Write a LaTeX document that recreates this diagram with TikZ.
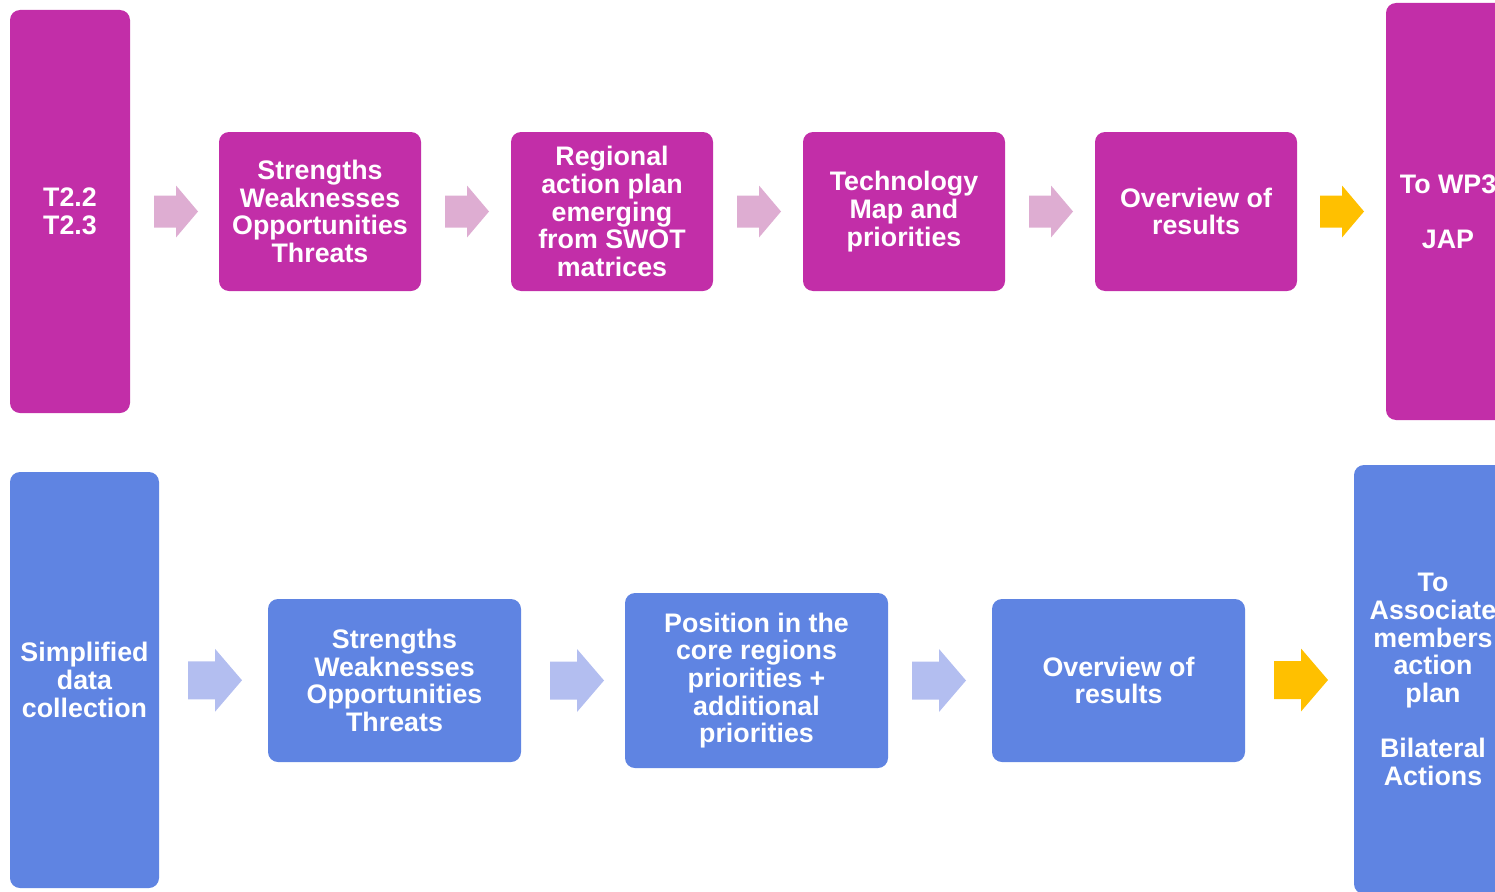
\documentclass[tikz,border=0pt]{standalone}
\usepackage{fontspec}
\setmainfont{Liberation Sans}
\usetikzlibrary{calc}
\definecolor{mag}{HTML}{C22EA8}
\definecolor{pinkarr}{HTML}{DEADD2}
\definecolor{blu}{HTML}{5F84E2}
\definecolor{bluarr}{HTML}{B3BEF0}
\definecolor{yel}{HTML}{FFC000}
% \barrow{coordinate}{colour}{length}{shaft half-height}{head half-height}{head length}
\newcommand\barrow[6]{%
  \fill[#2, shift={(#1)}]
    ({-#3/2},{-#4}) -- ({#3/2-#6},{-#4}) -- ({#3/2-#6},{-#5}) -- ({#3/2},0)
    -- ({#3/2-#6},{#5}) -- ({#3/2-#6},{#4}) -- ({-#3/2},{#4}) -- cycle;}
\begin{document}
\begin{tikzpicture}[x=1pt,y=-1pt,
  box/.style={rounded corners=10pt, text=white, align=center, inner sep=0pt,
    font=\bfseries\fontsize{26.8}{27.7}\selectfont},
  mbox/.style={box, fill=mag},
  bbox/.style={box, fill=blu}]
\useasboundingbox (0,0) rectangle (1495,891);
\clip (0,0) rectangle (1495,891);
% top row
\node[mbox, minimum width=120pt, minimum height=403pt] (t1) at (70,211.5) {T2.2\\T2.3};
\node[mbox, minimum width=202pt, minimum height=159pt] (t2) at (320,211.5) {Strengths\\Weaknesses\\Opportunities\\Threats};
\node[mbox, minimum width=202pt, minimum height=159pt] (t3) at (612,211.5) {Regional\\action plan\\emerging\\from SWOT\\matrices};
\node[mbox, minimum width=202pt, minimum height=159pt] (t4) at (904,211.5) {Technology\\Map and\\priorities};
\node[mbox, minimum width=202pt, minimum height=159pt] (t5) at (1196,211.5) {Overview of\\results};
\node[mbox, minimum width=124pt, minimum height=417pt] (t6) at (1448,211.5) {To WP3\\[27.7pt]JAP};
\coordinate (ta1) at ($(t1.east)!0.5!(t2.west)+(1.5,0)$);
\coordinate (ta2) at ($(t2.east)!0.5!(t3.west)+(1,0)$);
\coordinate (ta3) at ($(t3.east)!0.5!(t4.west)+(1,0)$);
\coordinate (ta4) at ($(t4.east)!0.5!(t5.west)+(1,0)$);
\coordinate (ta5) at ($(t5.east)!0.5!(t6.west)+(0.5,0)$);
\barrow{ta1}{pinkarr}{44}{16}{26}{22}
\barrow{ta2}{pinkarr}{44}{16}{26}{22}
\barrow{ta3}{pinkarr}{44}{16}{26}{22}
\barrow{ta4}{pinkarr}{44}{16}{26}{22}
\barrow{ta5}{yel}{44}{16}{26}{22}
% bottom row
\node[bbox, minimum width=149pt, minimum height=416pt] (b1) at (84.5,680) {Simplified\\data\\collection};
\node[bbox, minimum width=253pt, minimum height=163pt] (b2) at (394.5,680.5) {Strengths\\Weaknesses\\Opportunities\\Threats};
\node[bbox, minimum width=263pt, minimum height=175pt] (b3) at (756.5,680.5) {Position in the\\core regions\\priorities +\\additional\\priorities};
\node[bbox, minimum width=253pt, minimum height=163pt] (b4) at (1118.5,680.5) {Overview of\\results};
\node[bbox, minimum width=158pt, minimum height=429pt] (b5) at (1433,679.5) {To\\Associate\\members\\action\\plan\\[27.7pt]Bilateral\\Actions};
\coordinate (ba1) at ($(b1.east)!0.5!(b2.west)+(1.5,0)$);
\coordinate (ba2) at ($(b2.east)!0.5!(b3.west)+(4,0)$);
\coordinate (ba3) at ($(b3.east)!0.5!(b4.west)+(-1,0)$);
\coordinate (ba4) at ($(b4.east)!0.5!(b5.west)+(1.5,0)$);
\barrow{ba1}{bluarr}{54}{19}{31.5}{27}
\barrow{ba2}{bluarr}{54}{19}{31.5}{27}
\barrow{ba3}{bluarr}{54}{19}{31.5}{27}
\barrow{ba4}{yel}{54}{19}{31.5}{27}
\end{tikzpicture}
\end{document}
